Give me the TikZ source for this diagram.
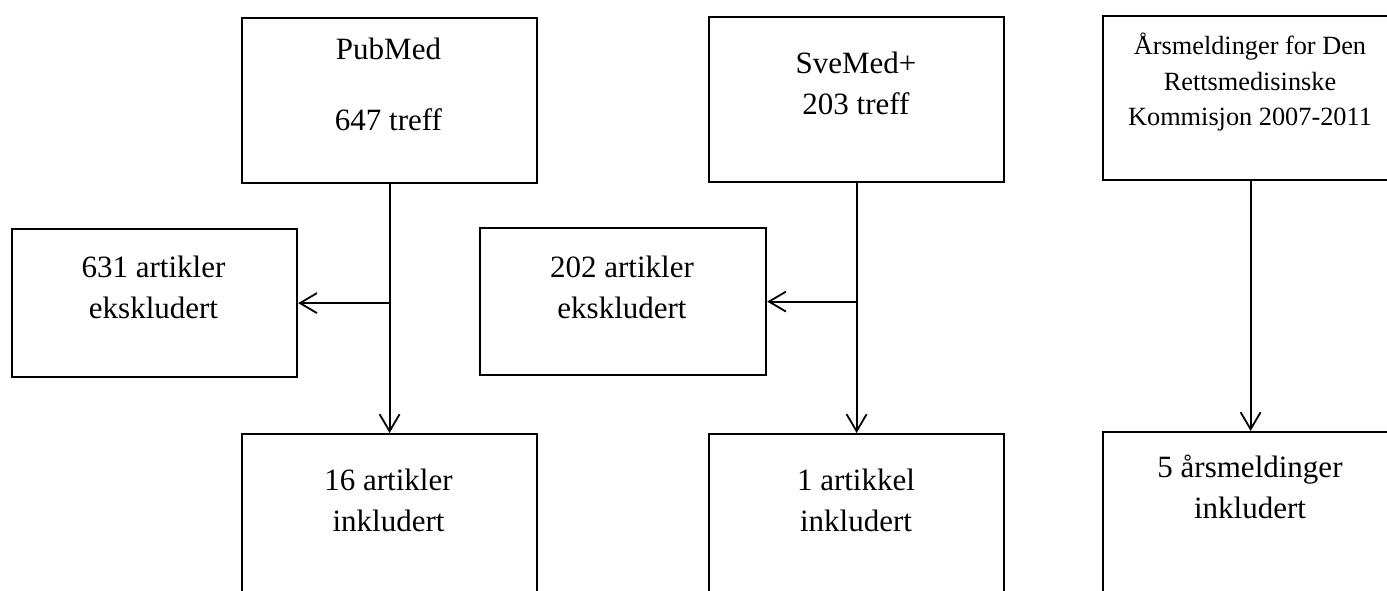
\documentclass[tikz,border=0pt]{standalone}
\usepackage{fontspec}
\setmainfont{Liberation Serif}
\usetikzlibrary{arrows.meta}
\tikzset{
  box/.style={draw, line width=2.2pt, rectangle, inner sep=0pt, minimum width=295pt, anchor=north west},
  txt/.style={align=center, inner sep=0pt, anchor=base, font=\fontsize{31}{41}\selectfont},
  smalltxt/.style={align=center, inner sep=0pt, anchor=base, font=\fontsize{26.3}{35.5}\selectfont},
  flow/.style={line width=2.2pt, -{Straight Barb[length=17pt,width=20pt,line width=1.8pt]}},
}
\begin{document}
\begin{tikzpicture}[x=1pt,y=-1pt]
\useasboundingbox (0,0) rectangle (1387,591);
\clip (0,0) rectangle (1387,591);
% top boxes
\node[box, minimum height=165pt] (pub) at (241,17) {};
\node[box, minimum height=165pt] (sve) at (708,16) {};
\node[box, minimum height=164pt] (ars) at (1102,15) {};
% exclusion boxes
\node[box, minimum width=285pt, minimum height=148pt] (ex1) at (11,228) {};
\node[box, minimum width=286pt, minimum height=147pt] (ex2) at (479,227) {};
% inclusion boxes
\node[box, minimum height=220pt] (inc1) at (241,433) {};
\node[box, minimum height=220pt] (inc2) at (708,433) {};
\node[box, minimum height=220pt] (inc3) at (1102,431) {};
% texts (base anchor = baseline of the last line)
\node[txt] (pubT1) at (388.5,60) {PubMed};
\node[txt] (pubT2) at (388.5,131) {647 treff};
\node[txt] (sveT) at (856,115) {SveMed+\\203 treff};
\node[smalltxt] (arsT) at (1250,126) {Årsmeldinger for Den\\Rettsmedisinske\\Kommisjon 2007-2011};
\node[txt] (ex1T) at (153.5,318) {631 artikler\\ekskludert};
\node[txt] (ex2T) at (622,318) {202 artikler\\ekskludert};
\node[txt] (inc1T) at (388.5,531) {16 artikler\\inkludert};
\node[txt] (inc2T) at (856,531) {1 artikkel\\inkludert};
\node[txt] (inc3T) at (1250,518) {5 årsmeldinger\\inkludert};
% connectors
\draw[flow] (pub.south) -- (inc1.north);
\draw[flow] (pub.south |- ex1.east) -- (ex1.east);
\draw[flow] (sve.south) -- (inc2.north);
\draw[flow] (sve.south |- ex2.east) -- (ex2.east);
\draw[flow] (ars.south) -- (inc3.north);
\end{tikzpicture}
\end{document}
